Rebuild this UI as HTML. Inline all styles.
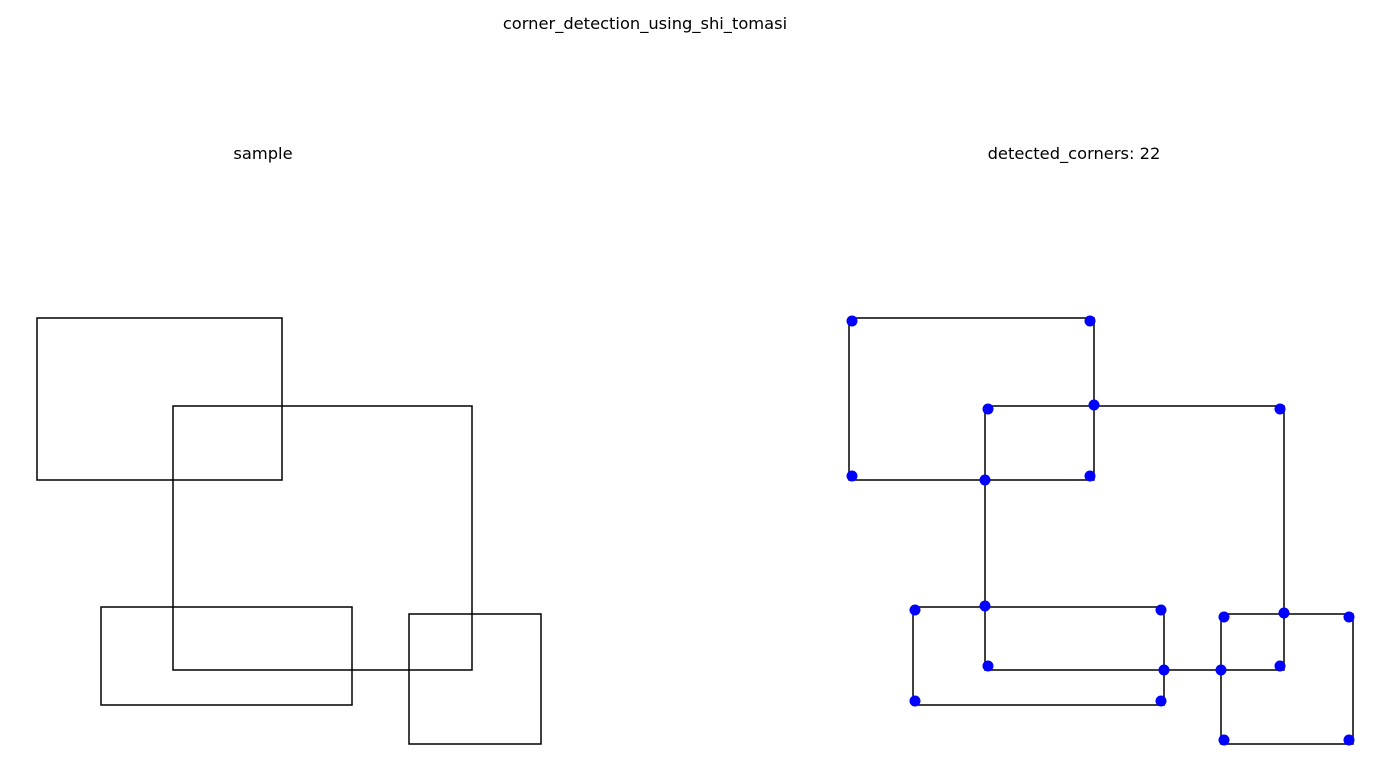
<!DOCTYPE html>
<html><head><meta charset="utf-8"><style>html,body{margin:0;padding:0;background:#fff;}svg{display:block}</style></head>
<body>
<svg width="1391" height="780" xmlns="http://www.w3.org/2000/svg" font-family="DejaVu Sans, Liberation Sans, sans-serif" font-size="16.3">
<text x="645" y="29" text-anchor="middle">corner_detection_using_shi_tomasi</text>
<text x="263" y="159" text-anchor="middle">sample</text>
<text x="1074" y="159" text-anchor="middle">detected_corners: 22</text>
<g fill="none" stroke="#000" stroke-width="1.5">
<rect x="37" y="318" width="245" height="162"/>
<rect x="173" y="406" width="299" height="264"/>
<rect x="101" y="607" width="251" height="98"/>
<rect x="409" y="614" width="132" height="130"/>
<g transform="translate(812,0)">
<rect x="37" y="318" width="245" height="162"/>
<rect x="173" y="406" width="299" height="264"/>
<rect x="101" y="607" width="251" height="98"/>
<rect x="409" y="614" width="132" height="130"/>
</g>
</g>
<g fill="#0000ff">
<circle cx="852" cy="321" r="5.5"/><circle cx="1090" cy="321" r="5.5"/>
<circle cx="988" cy="409" r="5.5"/><circle cx="1094" cy="405" r="5.5"/>
<circle cx="1280" cy="409" r="5.5"/><circle cx="852" cy="476" r="5.5"/>
<circle cx="1090" cy="476" r="5.5"/><circle cx="985" cy="480" r="5.5"/>
<circle cx="985" cy="606" r="5.5"/><circle cx="915" cy="610" r="5.5"/>
<circle cx="1161" cy="610" r="5.5"/><circle cx="1224" cy="617" r="5.5"/>
<circle cx="1284" cy="613" r="5.5"/><circle cx="1349" cy="617" r="5.5"/>
<circle cx="988" cy="666" r="5.5"/><circle cx="1164" cy="670" r="5.5"/>
<circle cx="1221" cy="670" r="5.5"/><circle cx="1280" cy="666" r="5.5"/>
<circle cx="915" cy="701" r="5.5"/><circle cx="1161" cy="701" r="5.5"/>
<circle cx="1224" cy="740" r="5.5"/><circle cx="1349" cy="740" r="5.5"/>
</g>
</svg>
</body></html>
